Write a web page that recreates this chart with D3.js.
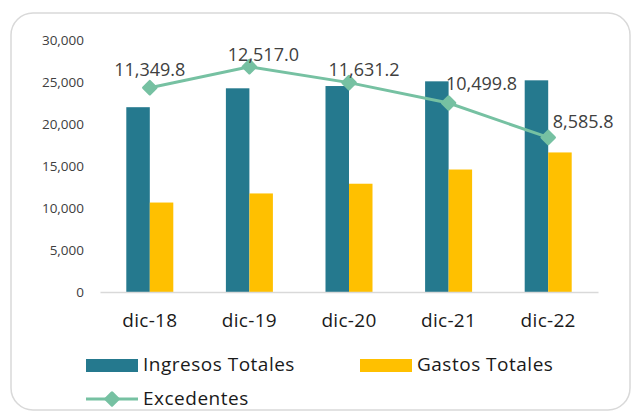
<!DOCTYPE html>
<html>
<head>
<meta charset="utf-8">
<script src="https://cdn.jsdelivr.net/npm/d3@7"></script>
<style>
  body { margin: 0; background: #fff; }
  text { font-family: "Open Sans", sans-serif; }
</style>
</head>
<body>
<svg width="631" height="415"></svg>
<script>
const categories = ['dic-18', 'dic-19', 'dic-20', 'dic-21', 'dic-22']
const ingresos = [22000, 24250, 24520, 25080, 25200]
const gastos = [10650, 11733, 12889, 14580, 16614]
const excedentes = [11349.8, 12517.0, 11631.2, 10499.8, 8585.8]
const yTicks = [0, 5000, 10000, 15000, 20000, 25000, 30000]

const colors = { ing: '#25798e', gas: '#ffc000', exc: '#76c1a2' }
// manual label nudges (dx, dy) like in the original
const labelShift = [[0, -12], [14, -6], [15, -7], [33, -13], [35, -9]]

const svg = d3.select('svg')

svg.append('rect')
    .attr('x', 11).attr('y', 13)
    .attr('width', 619).attr('height', 397)
    .attr('rx', 22)
    .attr('fill', '#fff')
    .attr('stroke', '#d9d9d9')
    .attr('stroke-width', 1.5)

const x = d3.scaleBand().domain(categories).range([100, 598])
const y = d3.scaleLinear().domain([0, 30000]).range([292, 40])
const y2 = d3.scaleLinear().domain([0, 14000]).range([292, 40])
const barW = 23.5

// y axis (no line, just labels)
const yAxis = svg.append('g')
    .attr('transform', 'translate(84,0)')
    .call(d3.axisLeft(y).tickValues(yTicks).tickSize(0).tickPadding(0).tickFormat(d3.format(',')))
yAxis.select('.domain').remove()
yAxis.selectAll('text').attr('font-size', 13.5).attr('fill', '#404040')

// bars
svg.selectAll('.ing')
    .data(ingresos)
    .enter()
    .append('rect')
    .attr('class', 'ing')
    .attr('x', (d, i) => x(categories[i]) + x.bandwidth() / 2 - barW)
    .attr('y', d => y(d))
    .attr('width', barW)
    .attr('height', d => y(0) - y(d))
    .attr('fill', colors.ing)

svg.selectAll('.gas')
    .data(gastos)
    .enter()
    .append('rect')
    .attr('class', 'gas')
    .attr('x', (d, i) => x(categories[i]) + x.bandwidth() / 2)
    .attr('y', d => y(d))
    .attr('width', barW)
    .attr('height', d => y(0) - y(d))
    .attr('fill', colors.gas)

// x axis
const xAxis = svg.append('g')
    .attr('transform', 'translate(0,292)')
    .call(d3.axisBottom(x).tickSize(0).tickPadding(22))
xAxis.select('.domain').attr('stroke', '#d9d9d9').attr('stroke-width', 1.5)
xAxis.selectAll('text').attr('font-size', 19).attr('letter-spacing', 0.3).attr('fill', '#1a1a1a')

// excedentes line
const cx = i => x(categories[i]) + x.bandwidth() / 2
const line = d3.line().x((d, i) => cx(i)).y(d => y2(d))
svg.append('path')
    .datum(excedentes)
    .attr('d', line)
    .attr('fill', 'none')
    .attr('stroke', colors.exc)
    .attr('stroke-width', 3)

const diamond = d3.symbol().type(d3.symbolDiamond2).size(100)
svg.selectAll('.mk')
    .data(excedentes)
    .enter()
    .append('path')
    .attr('class', 'mk')
    .attr('d', diamond)
    .attr('transform', (d, i) => `translate(${cx(i)},${y2(d)})`)
    .attr('fill', colors.exc)
    .attr('stroke', colors.exc)
    .attr('stroke-width', 3)
    .attr('stroke-linejoin', 'round')

svg.selectAll('.lbl')
    .data(excedentes)
    .enter()
    .append('text')
    .attr('class', 'lbl')
    .attr('x', (d, i) => cx(i) + labelShift[i][0])
    .attr('y', (d, i) => y2(d) + labelShift[i][1])
    .attr('text-anchor', 'middle')
    .attr('font-size', 18)
    .attr('fill', '#404040')
    .text(d => d3.format(',.1f')(d))

// legend
const legend = svg.append('g')
const legFont = t => t.attr('font-size', 19).attr('letter-spacing', 0.5).attr('fill', '#1a1a1a')
legend.append('rect').attr('x', 86).attr('y', 359).attr('width', 52).attr('height', 13).attr('fill', colors.ing)
legend.append('text').attr('x', 143).attr('y', 371).call(legFont).text('Ingresos Totales')
legend.append('rect').attr('x', 360).attr('y', 359).attr('width', 52).attr('height', 13).attr('fill', colors.gas)
legend.append('text').attr('x', 417).attr('y', 371).call(legFont).text('Gastos Totales')
legend.append('line').attr('x1', 86).attr('x2', 138).attr('y1', 399).attr('y2', 399)
    .attr('stroke', colors.exc).attr('stroke-width', 3)
legend.append('path').attr('d', diamond).attr('transform', 'translate(112,399)')
    .attr('fill', colors.exc).attr('stroke', colors.exc).attr('stroke-width', 3).attr('stroke-linejoin', 'round')
legend.append('text').attr('x', 143).attr('y', 405).call(legFont).text('Excedentes')
</script>
</body>
</html>
